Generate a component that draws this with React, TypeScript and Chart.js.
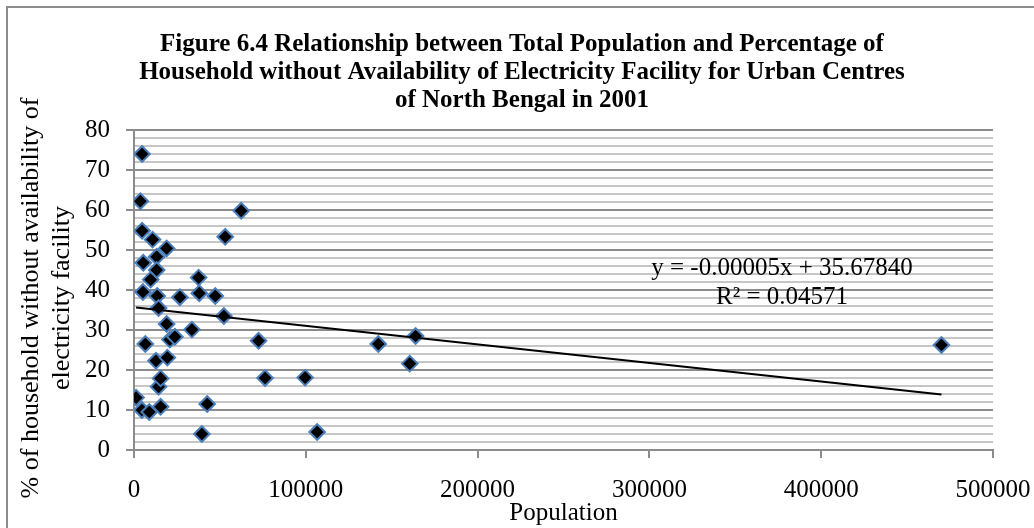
import React, { useEffect, useRef } from 'react';
import { Chart, registerables } from 'chart.js';

Chart.register(...registerables);

const titleLines = [
  'Figure 6.4 Relationship between Total Population and Percentage of',
  'Household without Availability of Electricity Facility for Urban Centres',
  'of North Bengal in 2001',
];
const xTitle = 'Population';
const yTitle = ['% of household without availability of', 'electricity facility'];
const equationLines = ['y = -0.00005x + 35.67840', 'R\u00B2 = 0.04571'];

const xTicks = [0, 100000, 200000, 300000, 400000, 500000];
const yMajorStep = 10;
const yMinorStep = 2;
const yMin = 0;
const yMax = 80;

const population = [
  1200, 3700, 4700, 4700, 5400, 5200, 4600, 6600, 8900, 9700,
  10800, 13200, 13200, 13500, 14300, 12800, 14300, 15500, 15500, 19000,
  19000, 19400, 20900, 23800, 26700, 33700, 37600, 38000, 39500, 42600,
  47300, 52300, 53100, 62400, 72500, 76300, 99600, 106600, 142200, 160500,
  163900, 470000,
];
const noElectricity = [
  13.1, 62.2, 74, 54.8, 46.8, 39.5, 10, 26.5, 9.5, 42.6,
  52.6, 48.3, 45, 38.5, 35.5, 22.3, 15.8, 17.9, 10.8, 50.4,
  31.5, 23.1, 27.6, 28.3, 38.2, 30.1, 43.1, 39.2, 4, 11.5,
  38.5, 33.5, 53.3, 59.8, 27.3, 18, 18.1, 4.5, 26.5, 21.6,
  28.5, 26.25,
];
const trendX = [1200, 470000];
const trendY = [35.6, 13.9];

const SERIF = '"Liberation Serif", "Times New Roman", serif';
const GRID_MAJOR = '#8c8c8c';
const GRID_MINOR = '#c6c6c6';

export default function App() {
  const ref = useRef<HTMLCanvasElement | null>(null);

  useEffect(() => {
    if (!ref.current) return;

    const decor = {
      id: 'decor',
      beforeDraw(chart: any) {
        const ctx = chart.ctx;
        ctx.save();
        ctx.fillStyle = '#ffffff';
        ctx.fillRect(0, 0, chart.width, chart.height);
        ctx.strokeStyle = GRID_MAJOR;
        ctx.lineWidth = 2;
        ctx.beginPath();
        ctx.moveTo(7, chart.height);
        ctx.lineTo(7, 7);
        ctx.lineTo(chart.width, 7);
        ctx.stroke();
        ctx.restore();
      },
      afterDraw(chart: any) {
        const ctx = chart.ctx;
        ctx.save();
        ctx.fillStyle = '#000000';
        ctx.textAlign = 'center';
        ctx.textBaseline = 'middle';
        ctx.font = `bold 25px ${SERIF}`;
        titleLines.forEach((t, i) => ctx.fillText(t, 522, 45 + i * 27.8));
        ctx.font = `25px ${SERIF}`;
        equationLines.forEach((t, i) => ctx.fillText(t, 782, 268 + i * 29.5));
        // rotated y-axis title
        ctx.font = `26px ${SERIF}`;
        ctx.translate(0, 298);
        ctx.rotate(-Math.PI / 2);
        yTitle.forEach((t, i) => ctx.fillText(t, 0, 31 + i * 31));
        ctx.restore();
      },
    };

    const chart = new Chart(ref.current, {
      type: 'scatter',
      data: {
        datasets: [
          {
            type: 'line',
            data: trendX.map((x, i) => ({ x, y: trendY[i] })),
            borderColor: '#000000',
            borderWidth: 2,
            pointRadius: 0,
            fill: false,
            order: 0,
          } as any,
          {
            type: 'scatter',
            data: population.map((x, i) => ({ x, y: noElectricity[i] })),
            pointStyle: 'rectRot',
            pointRadius: 7.8,
            backgroundColor: '#000000',
            borderColor: '#4a7ebb',
            borderWidth: 2,
            order: 1,
          } as any,
        ],
      },
      options: {
        responsive: false,
        animation: false,
        events: [],
        layout: { padding: { left: 8, right: 41, top: 130, bottom: 0 } },
        plugins: {
          legend: { display: false },
          tooltip: { enabled: false },
          title: { display: false },
        },
        scales: {
          x: {
            type: 'linear',
            min: xTicks[0],
            max: xTicks[xTicks.length - 1],
            afterBuildTicks: (scale: any) => {
              scale.ticks = xTicks.map((v) => ({ value: v }));
            },
            afterFit: (scale: any) => {
              scale.height = 78;
              scale.paddingLeft = 0;
              scale.paddingRight = 0;
            },
            ticks: {
              font: { family: SERIF, size: 25 },
              color: '#000000',
              padding: 17,
              maxRotation: 0,
              autoSkip: false,
              callback: (v: any) => String(v),
            },
            grid: {
              drawOnChartArea: false,
              drawTicks: true,
              tickLength: 8,
              color: GRID_MAJOR,
              lineWidth: 2,
            },
            border: { color: GRID_MAJOR, width: 2 },
            title: {
              display: true,
              text: xTitle,
              font: { family: SERIF, size: 25, lineHeight: 1.15 },
              color: '#000000',
              padding: { top: 0, bottom: 0 },
            },
          },
          y: {
            type: 'linear',
            min: yMin,
            max: yMax,
            afterFit: (scale: any) => {
              scale.width = 126;
            },
            ticks: {
              stepSize: yMinorStep,
              autoSkip: false,
              font: { family: SERIF, size: 25 },
              color: '#000000',
              padding: 16,
              callback: (v: any) => (Number(v) % yMajorStep === 0 ? String(v) : ''),
            },
            grid: {
              color: (c: any) => (c.tick && c.tick.value % yMajorStep === 0 ? GRID_MAJOR : GRID_MINOR),
              lineWidth: 2,
              tickLength: 8,
              tickWidth: 2,
              tickColor: (c: any) => (c.tick && c.tick.value % yMajorStep === 0 ? GRID_MAJOR : 'rgba(0,0,0,0)'),
            },
            border: { color: GRID_MAJOR, width: 2 },
            title: { display: false },
          },
        },
      },
      plugins: [decor],
    });

    return () => chart.destroy();
  }, []);

  return (
    <canvas
      ref={ref}
      width={1034}
      height={528}
      style={{ position: 'fixed', left: 0, top: 0, width: 1034, height: 528, display: 'block' }}
    />
  );
}
